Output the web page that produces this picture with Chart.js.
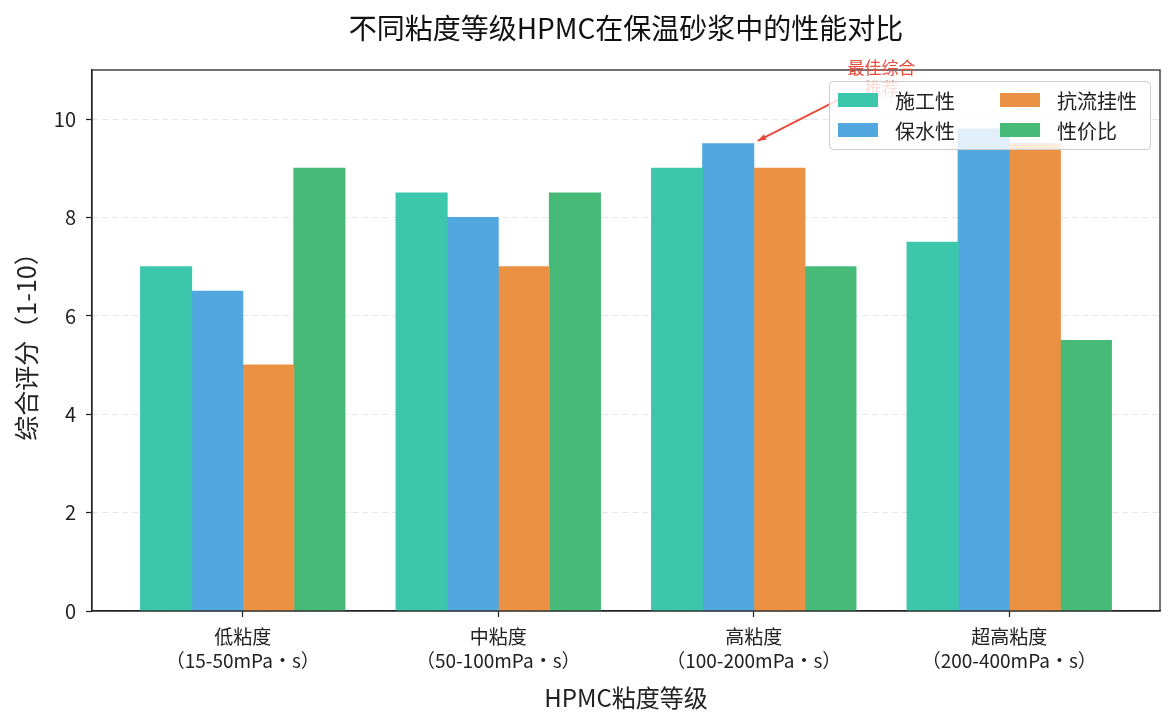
<!DOCTYPE html>
<html>
<head>
<meta charset="utf-8">
<script src="https://cdn.jsdelivr.net/npm/chart.js@4"></script>
<style>
  html, body { margin: 0; padding: 0; background: #fff; }
  #wrap { width: 1176px; height: 725px; }
</style>
</head>
<body>
<div id="wrap"><canvas id="chart" width="1176" height="725"></canvas></div>
<script>
const FONT = "'Noto Sans CJK SC', 'DejaVu Sans', sans-serif";
Chart.defaults.font.family = FONT;
Chart.defaults.color = "#222";

const categories = ["低粘度", "中粘度", "高粘度", "超高粘度"];
const ranges = ["（15-50mPa・s）", "（50-100mPa・s）", "（100-200mPa・s）", "（200-400mPa・s）"];
const seriesNames = ["施工性", "保水性", "抗流挂性", "性价比"];
const workability = [7, 8.5, 9, 7.5];
const waterRetention = [6.5, 8, 9.5, 9.8];
const sagResistance = [5, 7, 9, 9.5];
const costPerformance = [9, 8.5, 7, 5.5];
const yTicks = [0, 2, 4, 6, 8, 10];
const colors = ["#3cc6ab", "#52a7e0", "#ea9143", "#47ba78"];

const seriesValues = [workability, waterRetention, sagResistance, costPerformance];

const chartTitle = "不同粘度等级HPMC在保温砂浆中的性能对比";

// 註解: 最佳综合推荐 -> 高粘度
const note = { lines: ["最佳综合", "推荐"], at: [2, 9.5], textAt: [2.5, 10.85] };

// 標題置中於繪圖區上方
const titleOverArea = {
    id: "titleOverArea",
    afterDraw(chart) {
        const { ctx, chartArea: a } = chart;
        ctx.save();
        ctx.fillStyle = "#111";
        ctx.font = "28px " + FONT;
        ctx.textAlign = "center";
        ctx.textBaseline = "middle";
        ctx.fillText(chartTitle, (a.left + a.right) / 2, 28);
        ctx.restore();
    },
};

const frame = {
    id: "frame",
    afterDatasetsDraw(chart) {
        const { ctx, chartArea: a } = chart;
        ctx.save();
        ctx.strokeStyle = "#222";
        ctx.lineWidth = 1.25;
        ctx.strokeRect(a.left, a.top, a.right - a.left, a.bottom - a.top);
        ctx.restore();
    },
};

const annotation = {
    id: "note",
    afterDatasetsDraw(chart) {
        const { ctx, scales } = chart;
        const tx = scales.x.getPixelForValue(note.textAt[0]);
        const ty = scales.y.getPixelForValue(note.textAt[1]);
        const px = scales.x.getPixelForValue(note.at[0]);
        const py = scales.y.getPixelForValue(note.at[1]);
        ctx.save();
        ctx.fillStyle = "#e74c3c";
        ctx.font = "17px " + FONT;
        ctx.textAlign = "center";
        ctx.textBaseline = "middle";
        ctx.fillText(note.lines[0], tx, ty - 10);
        ctx.fillText(note.lines[1], tx, ty + 11);

        // 箭頭起點: 文字框邊緣
        const hw = 38, hh = 21;
        const dx = px - tx, dy = py - ty;
        const t = Math.min(hw / Math.abs(dx), hh / Math.abs(dy));
        const sx = tx + dx * t, sy = ty + dy * t;
        const ex = px + 4, ey = py - 3;
        ctx.strokeStyle = "#e74c3c";
        ctx.lineWidth = 2;
        ctx.beginPath();
        ctx.moveTo(sx, sy);
        ctx.lineTo(ex, ey);
        ctx.stroke();
        // 箭頭
        const ang = Math.atan2(ey - sy, ex - sx);
        const hl = 9;
        ctx.fillStyle = "#e74c3c";
        ctx.beginPath();
        ctx.moveTo(ex, ey);
        ctx.lineTo(ex - hl * Math.cos(ang - 0.35), ey - hl * Math.sin(ang - 0.35));
        ctx.lineTo(ex - hl * Math.cos(ang + 0.35), ey - hl * Math.sin(ang + 0.35));
        ctx.closePath();
        ctx.fill();
        ctx.restore();
    },
};

const legendBox = {
    id: "legendBox",
    afterDatasetsDraw(chart) {
        const { ctx, chartArea: a } = chart;
        const w = 321, h = 68;
        const x0 = a.right - 10 - w, y0 = a.top + 11;
        ctx.save();
        ctx.fillStyle = "rgba(255,255,255,0.82)";
        ctx.strokeStyle = "#cccccc";
        ctx.lineWidth = 1;
        ctx.beginPath();
        ctx.roundRect(x0 + 0.5, y0 + 0.5, w, h, 4);
        ctx.fill();
        ctx.stroke();
        ctx.font = "20px " + FONT;
        ctx.textBaseline = "middle";
        ctx.textAlign = "left";
        chart.data.datasets.forEach((ds, i) => {
            const col = Math.floor(i / 2), row = i % 2;
            const sx = x0 + 9 + col * 162;
            const cy = y0 + 19 + row * 30;
            ctx.fillStyle = ds.backgroundColor;
            ctx.fillRect(sx, cy - 7, 40, 14);
            ctx.fillStyle = "#222";
            ctx.fillText(ds.label, sx + 57, cy + 1);
        });
        ctx.restore();
    },
};

const data = {
    datasets: seriesNames.map((name, i) => ({
        label: name,
        data: seriesValues[i].map((v, j) => ({ x: j, y: v })),
        backgroundColor: colors[i],
        borderWidth: 0,
        inflateAmount: 0.5,
        categoryPercentage: 0.8,
        barPercentage: 1.0,
    })),
};

const config = {
    type: "bar",
    data: data,
    options: {
        responsive: false,
        animation: false,
        layout: { padding: { left: 0, right: 16, top: 70, bottom: 0 } },
        scales: {
            x: {
                type: "linear",
                offset: false,
                min: -0.59,
                max: 3.59,
                afterBuildTicks: (scale) => {
                    scale.ticks = categories.map((_, i) => ({ value: i }));
                },
                afterFit: (scale) => { scale.height = 114; },
                grid: {
                    offset: false,
                    drawOnChartArea: false,
                    tickLength: 6,
                    tickColor: "#222",
                    tickWidth: 1.25,
                },
                border: { color: "#222", width: 1.25 },
                ticks: {
                    autoSkip: false,
                    maxRotation: 0,
                    padding: 8,
                    font: { size: 19, lineHeight: 1.26 },
                    color: "#222",
                    callback: (v) => [categories[v], ranges[v]],
                },
                title: {
                    display: true,
                    text: "HPMC粘度等级",
                    font: { size: 24 },
                    color: "#222",
                    padding: { top: 0, bottom: 13 },
                },
            },
            y: {
                min: 0,
                max: 11,
                afterBuildTicks: (scale) => {
                    scale.ticks = yTicks.map((v) => ({ value: v }));
                },
                afterFit: (scale) => { scale.width = 92; },
                grid: {
                    color: "rgba(200,200,200,0.45)",
                    lineWidth: 1,
                    tickLength: 6,
                    tickColor: "#222",
                    tickWidth: 1.25,
                },
                border: { color: "#222", width: 1.25, dash: [6, 4] },
                ticks: {
                    padding: 10,
                    font: { size: 20 },
                    color: "#222",
                },
                title: {
                    display: true,
                    text: "综合评分（1-10）",
                    font: { size: 25 },
                    color: "#222",
                    padding: { top: 11, bottom: 0 },
                },
            },
        },
        plugins: {
            legend: { display: false },
            tooltip: { enabled: false },
            title: { display: false },
        },
    },
    plugins: [frame, annotation, legendBox, titleOverArea],
};

const chart = new Chart(document.getElementById("chart"), config);
</script>
</body>
</html>
